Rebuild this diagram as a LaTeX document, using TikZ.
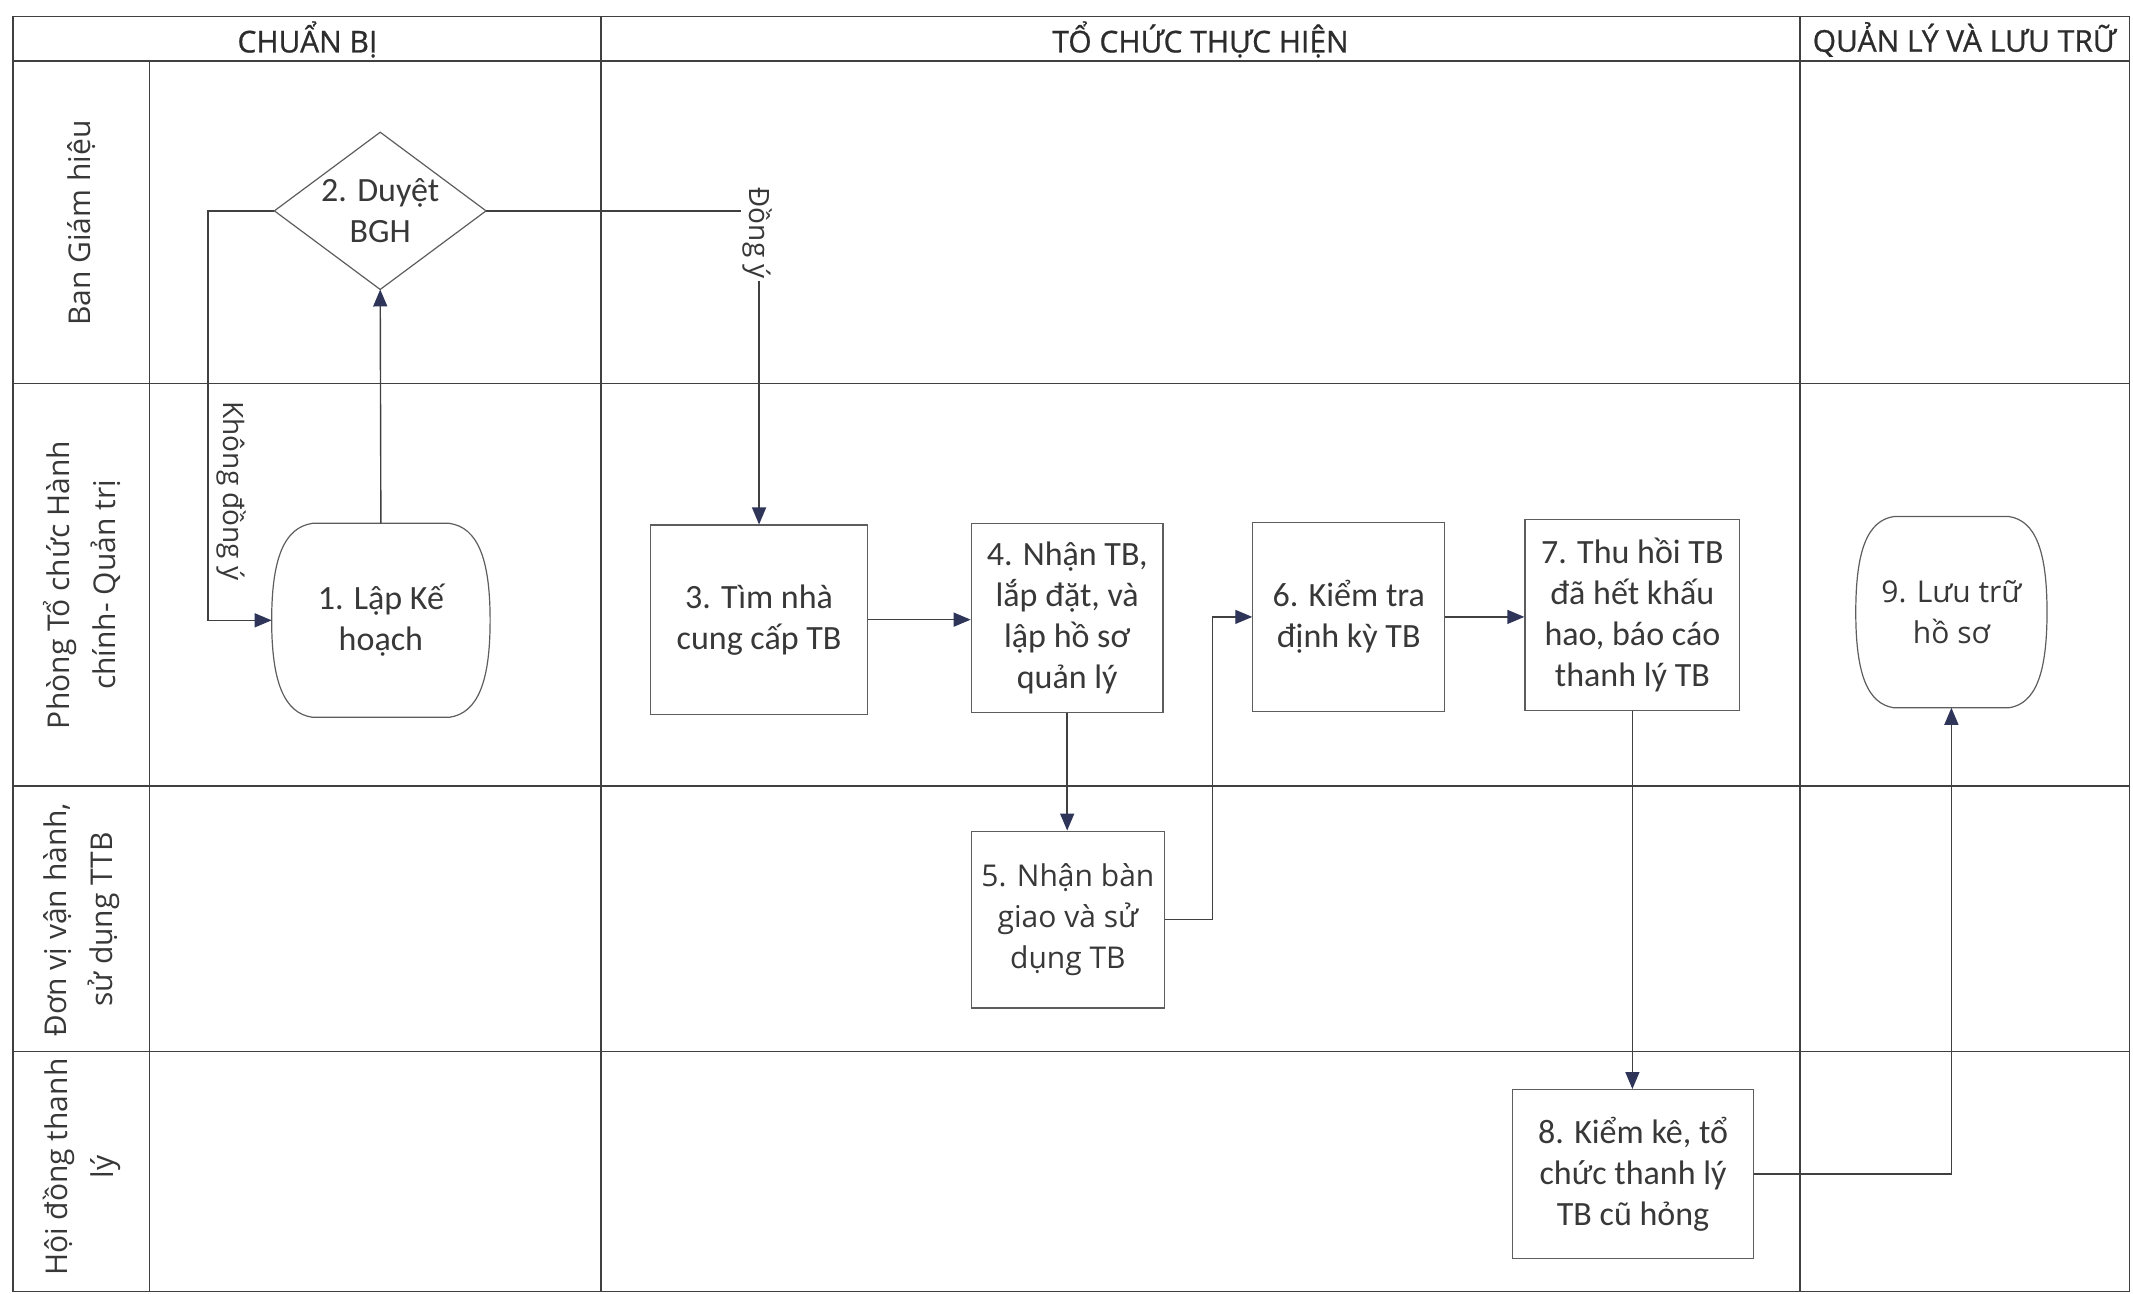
\documentclass[tikz,border=0pt]{standalone}
\usepackage{fontspec}
\setmainfont{Carlito}
\newfontfamily\osans{Open Sans}
\newfontfamily\osanshd{Open Sans}[FakeBold=0.8]
\usetikzlibrary{arrows.meta,calc}
\definecolor{linec}{HTML}{404040}
\definecolor{textc}{HTML}{383838}
\definecolor{hdrc}{HTML}{2C2C2C}
\definecolor{arrc}{HTML}{2E3558}
\newcommand\bulgeshape[2]{%
 \draw[draw=linec!85,line width=0.6pt]
  ($(#1.north west)+(#2,0)$) -- ($(#1.north east)+(-#2,0)$)
  .. controls ($(#1.north east)+(-#2*0.3,3)$) and ($(#1.east)+(0,-45)$) .. (#1.east)
  .. controls ($(#1.east)+(0,45)$) and ($(#1.south east)+(-#2*0.3,-3)$) .. ($(#1.south east)+(-#2,0)$)
  -- ($(#1.south west)+(#2,0)$)
  .. controls ($(#1.south west)+(#2*0.3,-3)$) and ($(#1.west)+(0,45)$) .. (#1.west)
  .. controls ($(#1.west)+(0,-45)$) and ($(#1.north west)+(#2*0.3,3)$) .. ($(#1.north west)+(#2,0)$)
  -- cycle;}
\begin{document}
\begin{tikzpicture}[x=0.68pt,y=-0.68pt,
 grid/.style={draw=linec,line width=0.8pt},
 sz/.style 2 args={minimum width=#1*0.68pt,minimum height=#2*0.68pt},
 box/.style={draw=linec!85,line width=0.6pt,fill=white,text=textc,align=center,inner sep=0pt,font=\fontsize{17pt}{20.5pt}\selectfont},
 ghost/.style={draw=none,align=center,inner sep=0pt,text=textc,font=\fontsize{17pt}{20.5pt}\selectfont},
 conn/.style={draw=linec,line width=0.7pt},
 arr/.style={conn,-{Triangle[length=8.5pt,width=7pt,color=arrc]}},
 hdr/.style={text=hdrc,font=\osanshd\fontsize{15pt}{18pt}\selectfont},
 lane/.style={text=textc,rotate=90,align=center,font=\osans\fontsize{15pt}{23pt}\selectfont},
 lbl/.style={text=textc,rotate=-90,font=\osans\fontsize{14pt}{17pt}\selectfont,inner sep=1pt}
]
\useasboundingbox (0,0) rectangle (1568,951);
% grid
\draw[grid] (9.5,12) rectangle (1565.5,949.5);
\draw[grid] (9.5,45) -- (1565.5,45);
\draw[grid] (9.5,282) -- (1565.5,282);
\draw[grid] (9.5,578) -- (1565.5,578);
\draw[grid] (9.5,773) -- (1565.5,773);
\draw[grid] (110,45) -- (110,949.5);
\draw[grid] (442,12) -- (442,949.5);
\draw[grid] (1323,12) -- (1323,949.5);
% headers
\node[hdr] (h1) at (226,29) {CHUẨN BỊ};
\node[hdr] (h2) at (882.5,29) {TỔ CHỨC THỰC HIỆN};
\node[hdr] (h3) at (1444,29) {QUẢN LÝ VÀ LƯU TRỮ};
% lanes
\node[lane] (l1) at (60,164) {Ban Giám hiệu};
\node[lane] (l2) at (60,430) {Phòng Tổ chức Hành\\chính- Quản trị};
\node[lane] (l3) at (60,676) {Đơn vị vận hành,\\sử dụng TTB};
\node[lane] (l4) at (60,858) {Hội đồng thanh\\lý};
% nodes
\node[ghost,sz={155}{115}] (d2) at (279.5,155) {2. Duyệt\\BGH};
\draw[draw=linec!85,line width=0.6pt] (d2.north) -- (d2.east) -- (d2.south) -- (d2.west) -- cycle;
\node[ghost,sz={160}{142}] (n1) at (280,456) {1. Lập Kế\\hoạch};
\bulgeshape{n1}{30}
\node[box,sz={160}{139}] (n3) at (558,455.5) {3. Tìm nhà\\cung cấp TB};
\node[box,sz={141}{139}] (n4) at (784.5,454.5) {4. Nhận TB,\\lắp đặt, và\\lập hồ sơ\\quản lý};
\node[box,sz={142}{130},font=\osans\fontsize{15pt}{20.5pt}\selectfont] (n5) at (785,676) {5. Nhận bàn\\giao và sử\\dụng TB};
\node[box,sz={141}{139}] (n6) at (991.5,453.5) {6. Kiểm tra\\định kỳ TB};
\node[box,sz={158}{140}] (n7) at (1200,452) {7. Thu hồi TB\\đã hết khấu\\hao, báo cáo\\thanh lý TB};
\node[box,sz={177}{124}] (n8) at (1200.5,863) {8. Kiểm kê, tổ\\chức thanh lý\\TB cũ hỏng};
\node[ghost,sz={140}{140},font=\osans\fontsize{15pt}{20.5pt}\selectfont] (n9) at (1434.5,450) {9. Lưu trữ\\hồ sơ};
\bulgeshape{n9}{28}
% connectors
\draw[arr] (n1.north) -- (d2.south);
\coordinate (k1) at (153,155);
\draw[arr] (d2.west) -- (k1) |- (n1.west);
\node[lbl] (lk) at (170.5,361) {Không đồng ý};
\coordinate (c23) at (n3.north |- d2.east);
\draw[arr] (d2.east) -- (c23) -- (n3.north);
\node[lbl,fill=white] (ld) at ($(c23)+(-1,16.5)$) {Đồng ý};
\draw[arr] (n3.east) -- (n3.east -| n4.west);
\draw[arr] (n4.south) -- (n4.south |- n5.north);
\coordinate (k5) at ($(n5.east)+(35,0)$);
\draw[arr] (n5.east) -- (k5) |- (n6.west);
\draw[arr] (n6.east) -- (n6.east -| n7.west);
\draw[arr] (n7.south) -- (n7.south |- n8.north);
\draw[arr] (n8.east) -| (n9.south);
\end{tikzpicture}
\end{document}
